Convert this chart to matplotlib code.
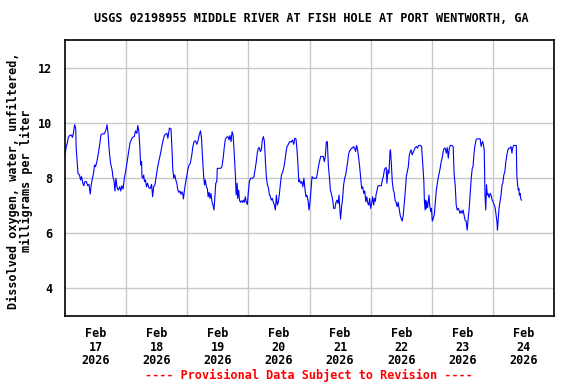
import datetime as dt
import matplotlib
matplotlib.use("Agg")
import matplotlib.pyplot as plt

# dissolved oxygen, hours since 2026-02-17 00:00 and mg/L
hours = [
    0.0, 0.5, 0.9, 1.3, 1.8, 2.5, 2.9, 3.3, 3.8, 4.2, 4.4, 4.8, 5.1, 5.7, 6.1, 6.5, 7.0, 7.4, 7.8, 8.4,
    8.9, 9.4, 9.9, 10.3, 10.7, 11.2, 11.6, 12.0, 12.5, 12.9, 13.3, 13.7, 14.1, 14.6, 15.5, 16.1, 16.5, 16.9, 17.4, 17.9,
    18.5, 18.8, 19.3, 19.6, 20.0, 20.4, 20.9, 21.5, 21.9, 22.3, 22.8, 23.3, 23.9, 24.4, 24.9, 25.5, 26.0, 26.5, 27.2, 27.7,
    28.2, 28.6, 29.0, 29.4, 29.7, 30.1, 30.2, 30.6, 30.9, 31.2, 31.6, 32.0, 32.4, 32.9, 33.5, 34.0, 34.4, 34.8, 35.3, 35.8,
    36.3, 36.8, 37.4, 37.9, 38.4, 39.0, 39.5, 40.0, 40.4, 40.8, 41.0, 41.6, 42.0, 42.3, 42.7, 43.1, 43.5, 43.9, 44.3, 44.7,
    45.1, 45.5, 45.9, 46.2, 46.5, 46.9, 47.4, 47.8, 48.2, 48.7, 49.2, 49.8, 50.2, 50.7, 51.2, 51.8, 52.3, 52.7, 53.2, 53.6,
    54.0, 54.5, 54.8, 55.1, 55.5, 55.9, 56.2, 56.6, 56.9, 57.3, 57.7, 58.1, 58.5, 58.9, 59.2, 59.6, 59.8, 60.2, 60.6, 61.1,
    61.6, 62.1, 62.5, 62.9, 63.4, 64.0, 64.4, 64.8, 65.2, 65.6, 66.0, 66.4, 66.9, 67.2, 67.6, 67.8, 68.2, 68.5, 68.9, 69.3,
    69.7, 70.0, 70.4, 70.8, 71.2, 71.6, 72.0, 72.4, 72.9, 73.6, 74.2, 74.7, 75.1, 75.5, 75.9, 76.3, 76.7, 77.1, 77.5, 77.9,
    78.3, 78.7, 79.1, 79.5, 79.9, 80.3, 80.6, 81.0, 81.4, 81.8, 82.2, 82.6, 83.0, 83.4, 83.8, 84.2, 84.6, 85.0, 85.5, 86.0,
    86.4, 86.8, 87.2, 87.7, 88.2, 88.8, 89.3, 89.8, 90.2, 90.7, 91.1, 91.4, 91.8, 92.1, 92.5, 93.0, 93.4, 93.8, 94.2, 94.6,
    95.0, 95.4, 95.8, 96.2, 96.6, 97.0, 97.5, 98.2, 98.7, 99.1, 99.5, 99.9, 100.4, 100.9, 101.4, 101.8, 102.2, 102.6, 103.0, 103.4,
    103.8, 104.2, 104.7, 105.1, 105.5, 106.0, 106.4, 106.8, 107.2, 107.6, 107.8, 108.2, 108.6, 109.0, 109.4, 109.8, 110.2, 110.6, 111.0, 111.3,
    111.7, 112.1, 112.5, 112.9, 113.3, 113.7, 114.1, 114.5, 114.9, 115.3, 115.7, 116.1, 116.5, 116.9, 117.3, 117.7, 118.1, 118.5, 118.9, 119.3,
    119.6, 120.0, 120.4, 120.8, 121.2, 121.5, 121.9, 122.1, 122.5, 122.9, 123.6, 124.2, 124.6, 125.0, 125.4, 125.7, 126.1, 126.4, 126.8, 127.2,
    127.6, 127.8, 128.1, 128.5, 128.9, 129.2, 129.6, 130.0, 130.4, 130.8, 131.2, 131.6, 132.0, 132.4, 132.8, 133.2, 133.6, 134.0, 134.4, 134.8,
    135.2, 135.6, 135.9, 136.3, 136.7, 137.1, 137.5, 138.0, 138.4, 138.8, 139.5, 140.0, 140.5, 140.9, 141.1, 141.4, 141.6, 141.8, 142.0, 142.4,
    142.7, 142.9, 143.2, 143.6, 143.9, 144.2, 144.6, 145.0, 145.4, 145.8, 146.1, 146.5, 146.9, 147.3, 147.7, 148.1, 148.5, 148.9, 149.3, 149.7,
    150.1, 150.5, 150.9, 151.3, 151.8, 152.4, 152.8, 153.2, 153.6, 154.0, 154.4, 154.7, 155.1, 155.5, 155.9, 156.3, 156.7, 157.1, 157.5, 157.9,
    158.3, 158.7, 159.1, 159.5, 159.9, 160.2, 160.6, 161.0, 161.4, 161.8, 162.4, 163.0, 163.4, 163.7, 164.0, 164.3, 164.6, 164.9, 165.2, 165.5,
    165.8, 166.1, 166.5, 166.9, 167.3, 167.7, 168.1, 168.5, 168.8, 169.1, 169.6, 169.8, 170.1, 170.4, 170.8, 171.2, 171.6, 171.9, 172.3, 172.7,
    173.1, 173.5, 173.9, 174.3, 174.7, 175.1, 175.5, 175.7, 176.2, 176.8, 177.2, 177.4, 177.7, 178.0, 178.2, 178.4, 178.7, 178.9, 179.2,
]
oxygen = [
    8.84, 9.14, 9.26, 9.47, 9.54, 9.56, 9.47, 9.62, 9.93, 9.81, 9.08, 8.53, 8.17, 8.11, 7.93, 8.05, 7.81, 7.72, 7.87, 7.87,
    7.72, 7.77, 7.42, 7.75, 7.96, 8.17, 8.47, 8.41, 8.59, 8.78, 9.02, 9.26, 9.56, 9.60, 9.60, 9.75, 9.93, 9.62, 8.96, 8.53,
    8.29, 8.05, 7.87, 7.53, 7.99, 7.68, 7.56, 7.68, 7.53, 7.72, 7.60, 7.99, 8.29, 8.59, 8.90, 9.26, 9.38, 9.47, 9.50, 9.71,
    9.62, 9.90, 9.68, 9.08, 8.47, 8.59, 8.05, 7.99, 8.11, 7.87, 7.93, 7.68, 7.81, 7.65, 7.62, 7.77, 7.32, 7.68, 7.75, 8.05,
    8.35, 8.59, 8.84, 9.08, 9.32, 9.54, 9.59, 9.62, 9.44, 9.68, 9.81, 9.78, 9.08, 8.35, 7.99, 8.11, 7.93, 7.81, 7.56, 7.48,
    7.53, 7.41, 7.50, 7.44, 7.24, 7.56, 7.87, 8.05, 8.29, 8.47, 8.53, 8.84, 9.14, 9.32, 9.35, 9.22, 9.38, 9.56, 9.71, 9.44,
    8.72, 7.99, 7.75, 7.93, 7.68, 7.62, 7.32, 7.48, 7.26, 7.44, 7.14, 7.02, 6.84, 7.38, 7.81, 7.87, 8.35, 8.35, 8.35, 8.35,
    8.41, 8.72, 9.08, 9.38, 9.47, 9.50, 9.38, 9.54, 9.32, 9.68, 9.56, 8.96, 8.11, 7.38, 7.81, 7.26, 7.56, 7.20, 7.12, 7.17,
    7.12, 7.20, 7.12, 7.32, 7.12, 7.04, 7.50, 7.87, 7.99, 7.99, 8.05, 8.35, 8.59, 8.90, 9.08, 9.10, 8.96, 9.02, 9.38, 9.50,
    9.32, 8.59, 7.99, 7.75, 7.62, 7.38, 7.35, 7.20, 7.26, 7.12, 7.02, 6.84, 7.38, 7.02, 7.14, 7.44, 7.81, 8.11, 8.23, 8.41,
    8.66, 8.96, 9.14, 9.22, 9.32, 9.30, 9.38, 9.22, 9.44, 9.42, 9.00, 8.60, 7.87, 7.93, 7.81, 7.87, 7.68, 7.99, 7.62, 7.32,
    7.38, 7.20, 6.84, 7.14, 7.62, 8.05, 7.99, 7.99, 7.99, 8.17, 8.41, 8.59, 8.78, 8.78, 8.78, 8.59, 8.78, 9.30, 9.32, 8.47,
    8.05, 7.56, 7.38, 7.20, 6.90, 6.90, 7.12, 7.20, 7.08, 7.38, 7.02, 6.51, 6.96, 7.26, 7.75, 7.99, 8.11, 8.35, 8.59, 8.84,
    8.98, 9.02, 9.08, 9.08, 9.14, 9.08, 8.96, 9.18, 9.02, 8.72, 8.41, 7.99, 7.62, 7.68, 7.44, 7.53, 7.14, 7.32, 7.08, 7.02,
    7.26, 6.90, 7.08, 7.32, 7.02, 7.26, 7.16, 7.38, 7.56, 7.72, 7.72, 7.72, 7.93, 8.05, 8.29, 8.35, 8.38, 7.81, 8.29, 8.17,
    8.96, 9.02, 8.59, 7.87, 7.56, 7.50, 7.20, 7.12, 6.96, 7.12, 6.90, 6.65, 6.53, 6.44, 6.65, 7.08, 7.50, 8.05, 8.23, 8.41,
    8.84, 8.96, 9.02, 8.84, 8.93, 9.02, 9.10, 9.14, 9.08, 9.18, 9.18, 9.14, 8.47, 7.87, 7.20, 6.84, 7.20, 6.90, 7.14, 6.93,
    7.20, 7.38, 7.02, 6.78, 6.90, 6.44, 6.53, 6.68, 7.14, 7.56, 7.75, 7.99, 8.17, 8.35, 8.59, 8.72, 8.96, 9.08, 9.08, 8.90,
    9.10, 8.72, 9.08, 9.18, 9.18, 9.14, 8.11, 7.75, 7.02, 6.84, 6.90, 6.84, 6.72, 6.81, 6.72, 6.84, 6.65, 6.47, 6.44, 6.11,
    6.53, 6.90, 7.44, 7.99, 8.35, 8.41, 8.90, 9.20, 9.38, 9.42, 9.42, 9.42, 9.14, 9.26, 9.32, 9.20, 9.02, 7.38, 6.84, 7.75,
    7.38, 7.44, 7.29, 7.44, 7.38, 7.20, 7.14, 7.02, 6.96, 6.78, 6.41, 6.11, 6.53, 6.90, 7.14, 7.38, 7.75, 7.81, 8.11, 8.23,
    8.59, 8.84, 9.02, 9.08, 9.08, 9.14, 8.90, 9.08, 9.18, 9.18, 9.18, 8.11, 7.75, 7.56, 7.62, 7.38, 7.44, 7.26, 7.20,
]

start = dt.datetime(2026, 2, 17)
n_days = 8
month_label = "Feb"
year_label = "2026"
day_labels = ["17", "18", "19", "20", "21", "22", "23", "24"]
y_ticks = [4, 6, 8, 10, 12]

title = "USGS 02198955 MIDDLE RIVER AT FISH HOLE AT PORT WENTWORTH, GA"
ylabel = "Dissolved oxygen, water, unfiltered,\nmilligrams per liter"
footer = "---- Provisional Data Subject to Revision ----"

plt.rcParams["font.family"] = ["DejaVu Sans Mono"]
plt.rcParams["font.weight"] = "bold"
fs = 8.5

times = [start + dt.timedelta(hours=h) for h in hours]

fig = plt.figure(figsize=(5.76, 3.84), dpi=100)
ax = fig.add_axes([65 / 576, 1 - 316 / 384, 489 / 576, 276 / 384])

ax.plot(times, oxygen, color="#0000ff", lw=0.8)

ax.set_xlim(start, start + dt.timedelta(days=n_days))
ax.set_ylim(3, 13)

# grid at midnight, labels at noon
midnights = [start + dt.timedelta(days=i) for i in range(1, n_days)]
noons = [start + dt.timedelta(days=i, hours=12) for i in range(n_days)]
ax.set_xticks(midnights, minor=True)
ax.set_xticks(noons)
ax.set_xticklabels([f"{month_label}\n{d}\n{year_label}" for d in day_labels],
                   fontsize=fs, fontweight="bold", linespacing=1.05)
ax.set_yticks(y_ticks)
ax.set_yticklabels([str(v) for v in y_ticks], fontsize=fs, fontweight="bold")
ax.tick_params(axis="x", which="both", length=0, pad=8)
ax.tick_params(axis="y", length=0, pad=9)
ax.grid(True, which="minor", axis="x", color="#c8c8c8", lw=1)
ax.grid(True, which="major", axis="y", color="#c8c8c8", lw=1)
ax.set_axisbelow(True)
for s in ax.spines.values():
    s.set_linewidth(1.2)

fig.text(20 / 576, 1 - 181 / 384, ylabel, rotation=90, ha="center", va="center",
         fontsize=fs, fontweight="bold", multialignment="center", linespacing=1.05)
fig.text(311 / 576, 1 - 19 / 384, title, ha="center", va="center",
         fontsize=fs, fontweight="bold")
fig.text(309 / 576, 1 - 375 / 384, footer, ha="center", va="center",
         fontsize=fs, fontweight="bold", color="red")

fig.savefig("out.png", dpi=100)
